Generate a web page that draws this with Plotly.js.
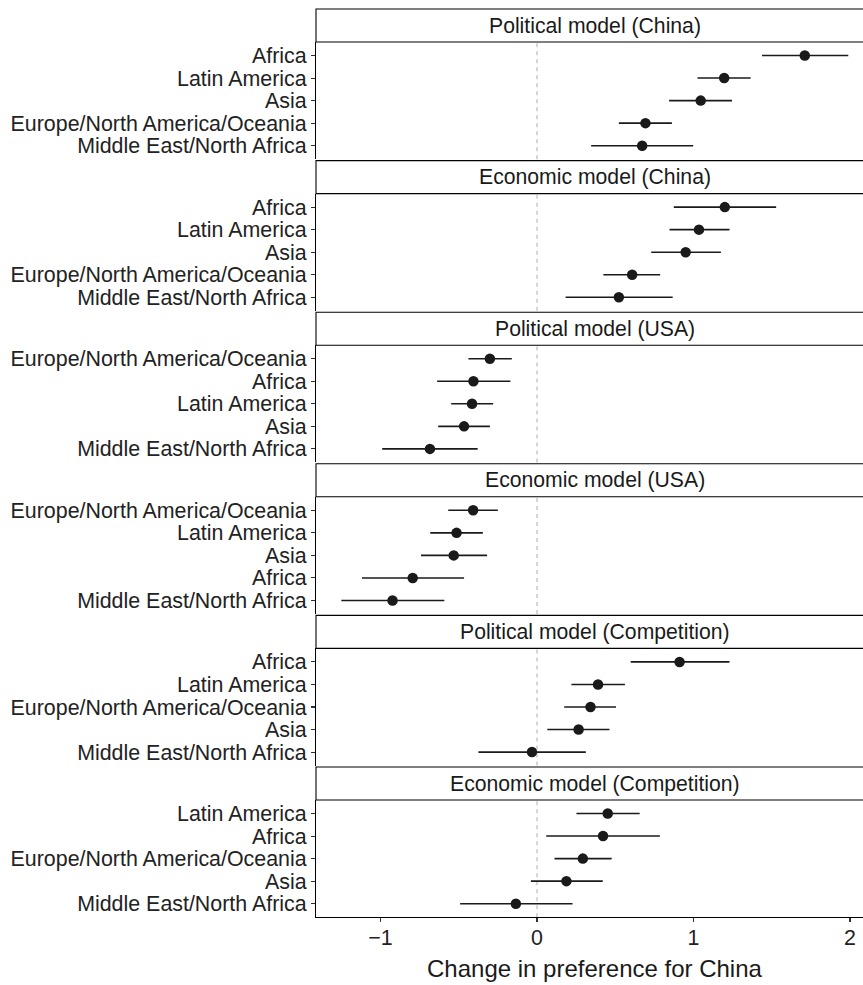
<!DOCTYPE html>
<html>
<head>
<meta charset="utf-8">
<script src="https://cdn.plot.ly/plotly-3.0.1.min.js"></script>
<style>html,body{margin:0;padding:0;background:#fff;}#chart{width:863px;height:985px;}</style>
</head>
<body>
<div id="chart"></div>
<script>
// ---- Data ----
const panelTitles = [
  "Political model (China)",
  "Economic model (China)",
  "Political model (USA)",
  "Economic model (USA)",
  "Political model (Competition)",
  "Economic model (Competition)"
];

const regionsPolChina = ["Africa","Latin America","Asia","Europe/North America/Oceania","Middle East/North Africa"];
const estPolChina = [1.711, 1.196, 1.046, 0.693, 0.672];
const loPolChina  = [1.438, 1.026, 0.844, 0.523, 0.346];
const hiPolChina  = [1.989, 1.365, 1.246, 0.862, 0.998];

const regionsEcoChina = ["Africa","Latin America","Asia","Europe/North America/Oceania","Middle East/North Africa"];
const estEcoChina = [1.200, 1.035, 0.950, 0.608, 0.523];
const loEcoChina  = [0.874, 0.847, 0.730, 0.424, 0.183];
const hiEcoChina  = [1.528, 1.230, 1.175, 0.787, 0.867];

const regionsPolUSA = ["Europe/North America/Oceania","Africa","Latin America","Asia","Middle East/North Africa"];
const estPolUSA = [-0.301, -0.406, -0.415, -0.466, -0.684];
const loPolUSA  = [-0.438, -0.638, -0.548, -0.631, -0.989];
const hiPolUSA  = [-0.161, -0.170, -0.280, -0.301, -0.379];

const regionsEcoUSA = ["Europe/North America/Oceania","Latin America","Asia","Africa","Middle East/North Africa"];
const estEcoUSA = [-0.408, -0.514, -0.532, -0.794, -0.923];
const loEcoUSA  = [-0.567, -0.682, -0.741, -1.118, -1.250];
const hiEcoUSA  = [-0.250, -0.346, -0.319, -0.466, -0.592];

const regionsPolComp = ["Africa","Latin America","Europe/North America/Oceania","Asia","Middle East/North Africa"];
const estPolComp = [0.911, 0.390, 0.342, 0.266, -0.032];
const loPolComp  = [0.599, 0.220, 0.174, 0.066, -0.374];
const hiPolComp  = [1.230, 0.562, 0.505, 0.463, 0.312];

const regionsEcoComp = ["Latin America","Africa","Europe/North America/Oceania","Asia","Middle East/North Africa"];
const estEcoComp = [0.452, 0.422, 0.293, 0.188, -0.135];
const loEcoComp  = [0.252, 0.059, 0.112, -0.039, -0.491];
const hiEcoComp  = [0.656, 0.785, 0.477, 0.420, 0.227];

const xTickVals = [-1, 0, 1, 2];
const xTickText = ["\u22121", "0", "1", "2"];
const xTitle = "Change in preference for China";

// ---- Build ----
const panels = [
  [regionsPolChina, estPolChina, loPolChina, hiPolChina],
  [regionsEcoChina, estEcoChina, loEcoChina, hiEcoChina],
  [regionsPolUSA, estPolUSA, loPolUSA, hiPolUSA],
  [regionsEcoUSA, estEcoUSA, loEcoUSA, hiEcoUSA],
  [regionsPolComp, estPolComp, loPolComp, hiPolComp],
  [regionsEcoComp, estEcoComp, loEcoComp, hiEcoComp]
];

const H = 985, W = 863;
const FONT = "Liberation Sans, Arial, Helvetica, sans-serif";
const top0 = 9, step = 151.6, stripH = 33, panelBottomOff = 150.2;
const textCol = "#222";
const fy = py => 1 - py / H;

const traces = [];
const shapes = [];
const annotations = [];
const layout = {
  width: W, height: H,
  margin: {l: 316, r: 0, t: 0, b: 0},
  paper_bgcolor: "#fff", plot_bgcolor: "rgba(0,0,0,0)",
  showlegend: false,
  font: {family: FONT, size: 21, color: textCol},
  xaxis: {
    range: [-1.412, 2.083],
    tickmode: "array", tickvals: xTickVals, ticktext: xTickText,
    showgrid: false, zeroline: false,
    showline: true, linecolor: "#000", linewidth: 1.1,
    ticks: "outside", ticklen: 4, tickcolor: "#333", tickwidth: 1.1,
    ticklabelstandoff: -3,
    tickfont: {size: 21.4, color: textCol, family: FONT},
    anchor: "y6"
  }
};

panels.forEach((p, i) => {
  const [cats, est, lo, hi] = p;
  const yName = i === 0 ? "y" : "y" + (i + 1);
  const axName = i === 0 ? "yaxis" : "yaxis" + (i + 1);
  const sTop = top0 + step * i;
  const pTop = sTop + stripH;
  const pBot = sTop + panelBottomOff;
  layout[axName] = {
    domain: [fy(pBot), fy(pTop)],
    type: "category",
    categoryorder: "array", categoryarray: cats,
    tickmode: "array", tickvals: cats, ticktext: cats,
    range: [cats.length - 0.4, -0.6],
    anchor: "x",
    showgrid: false, zeroline: false,
    showline: true, linecolor: "#000", linewidth: 1.1,
    ticks: "outside", ticklen: 4, tickcolor: "#333", tickwidth: 1.1,
    tickfont: {size: 21.4, color: textCol, family: FONT},
    fixedrange: true
  };
  traces.push({
    type: "scatter", mode: "markers",
    x: est, y: cats, xaxis: "x", yaxis: yName,
    marker: {size: 10.5, color: "#1a1a1a"},
    error_x: {
      type: "data", symmetric: false,
      array: hi.map((h, k) => h - est[k]),
      arrayminus: lo.map((l, k) => est[k] - l),
      width: 0, thickness: 1.6, color: "#1a1a1a"
    },
    hoverinfo: "x+y"
  });
  // zero reference line
  shapes.push({
    type: "line", xref: "x", yref: yName + " domain",
    x0: 0, x1: 0, y0: 0, y1: 1,
    line: {color: "#bdbdbd", width: 1.2, dash: "4px,4px"},
    layer: "below"
  });
  // strip box
  shapes.push({
    type: "rect", xref: "paper", yref: "paper",
    x0: 0, x1: 1.03, y0: fy(pTop), y1: fy(sTop),
    fillcolor: "#fff", line: {color: "#000", width: 1.1}
  });
  annotations.push({
    xref: "paper", yref: "paper",
    x: 0.51, y: fy(sTop + stripH / 2),
    xanchor: "center", yanchor: "middle",
    text: panelTitles[i], showarrow: false,
    font: {size: 21.2, color: "#1a1a1a", family: FONT}
  });
});

annotations.push({
  xref: "paper", yref: "paper",
  x: 0.51, y: fy(968),
  xanchor: "center", yanchor: "middle",
  text: xTitle, showarrow: false,
  font: {size: 24, color: "#1a1a1a", family: FONT}
});

layout.shapes = shapes;
layout.annotations = annotations;

Plotly.newPlot("chart", traces, layout, {displayModeBar: false, staticPlot: true});
</script>
</body>
</html>
